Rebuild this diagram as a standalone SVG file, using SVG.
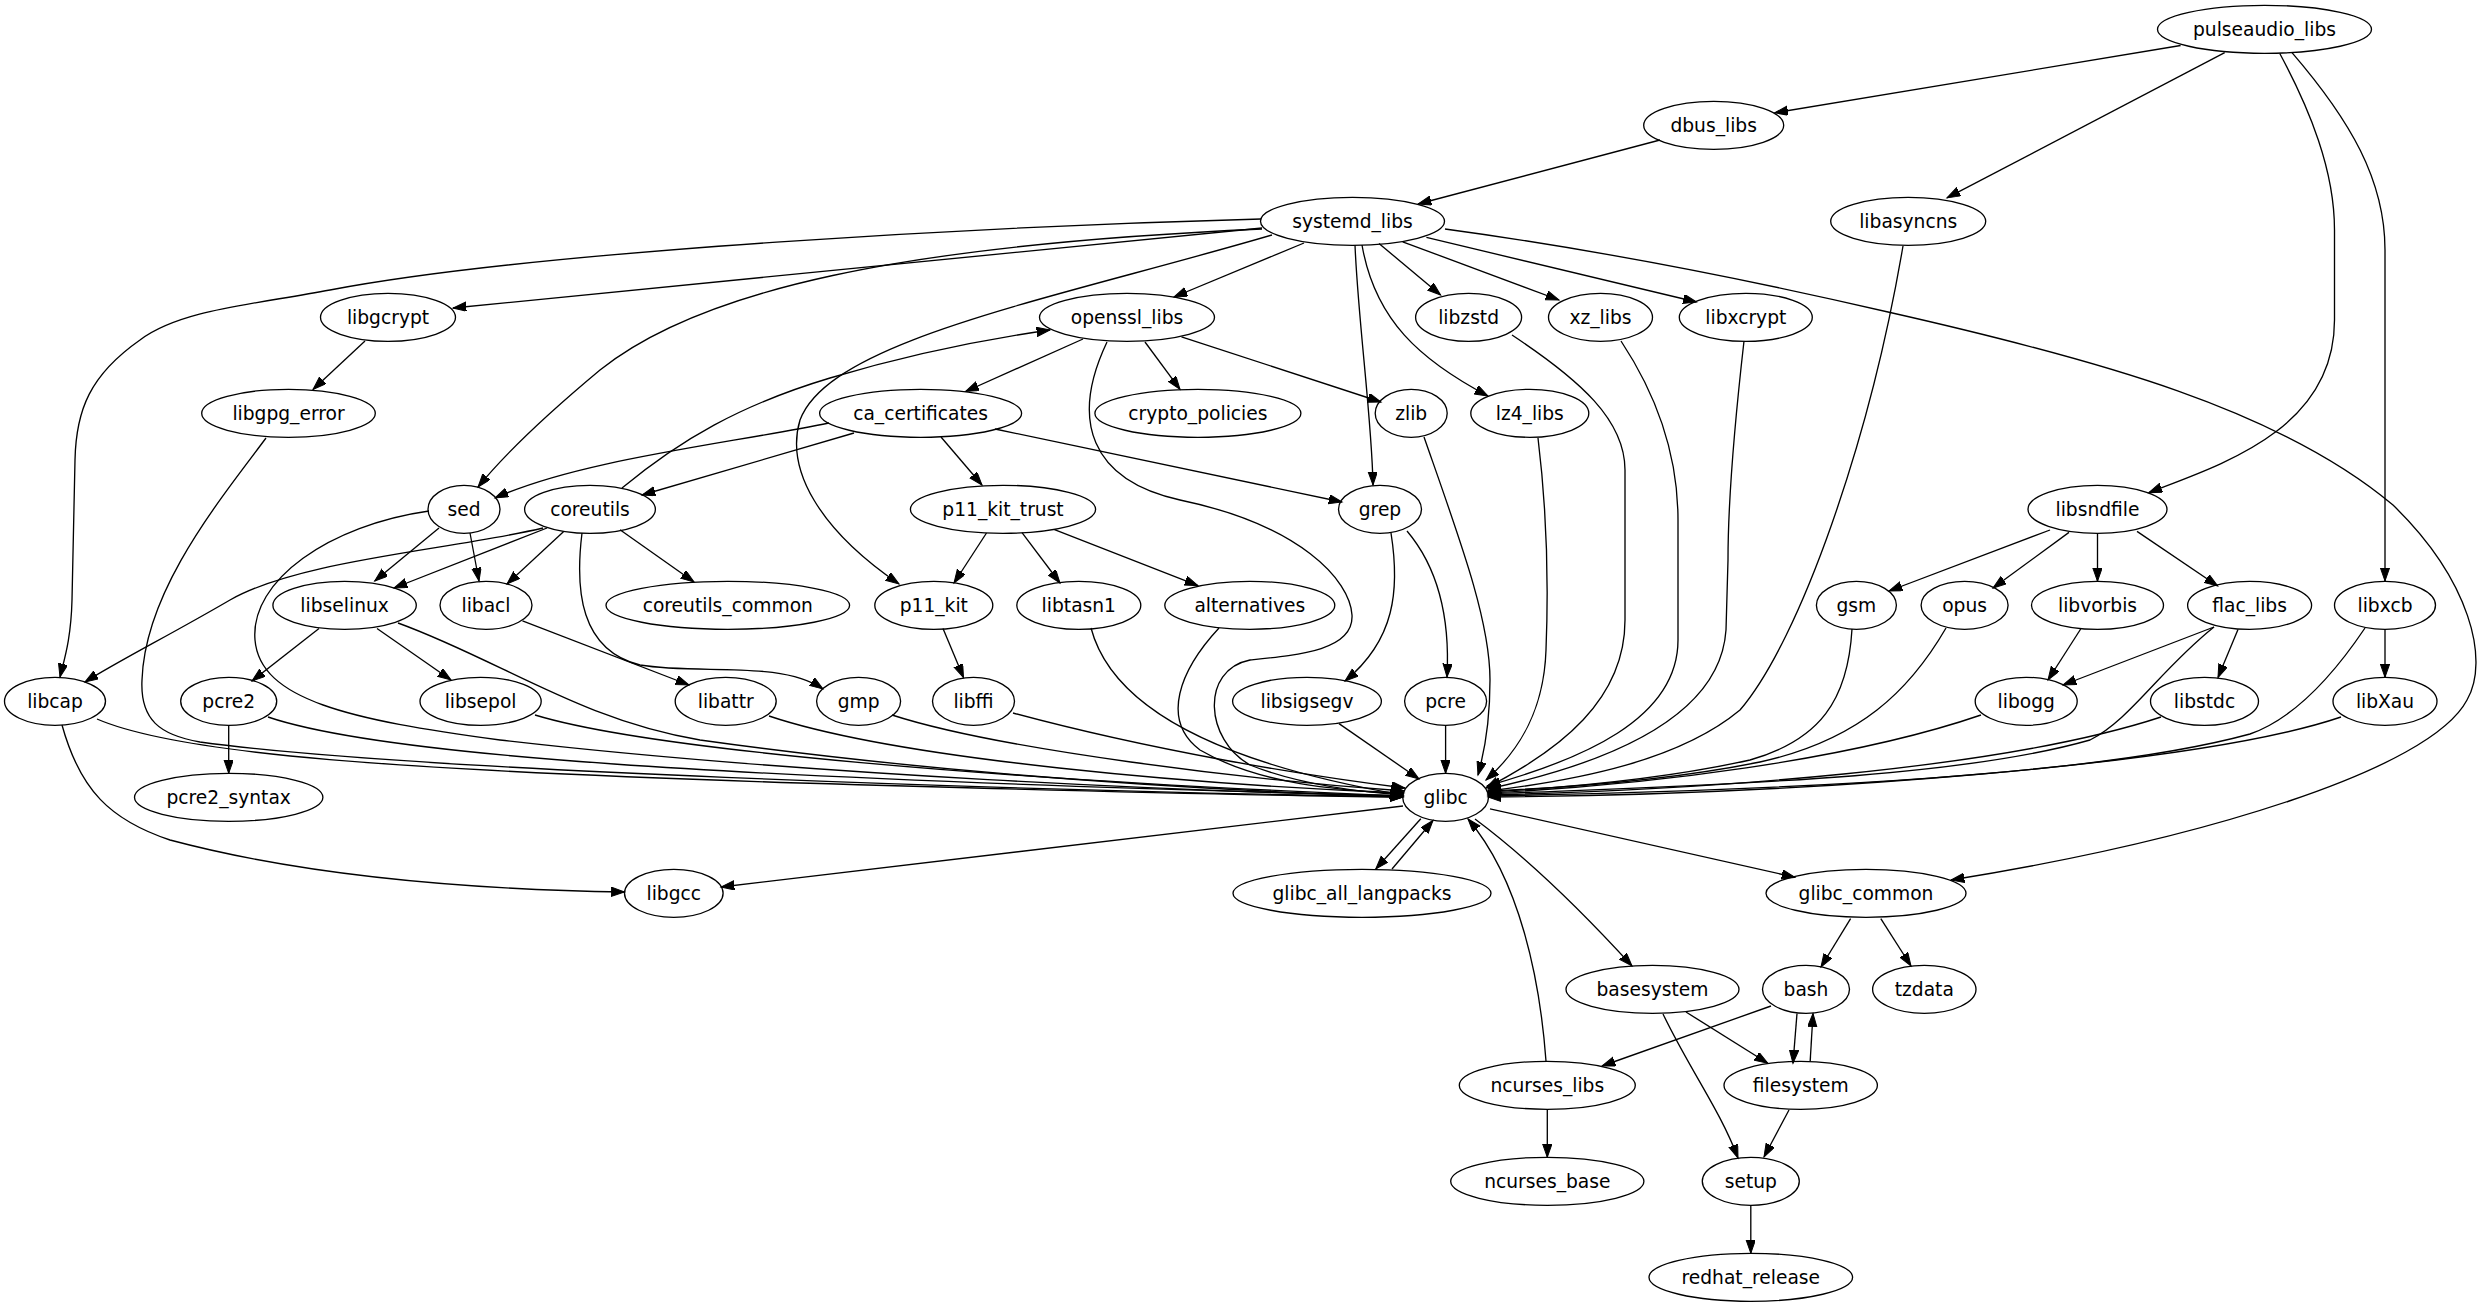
<svg xmlns="http://www.w3.org/2000/svg" width="2482" height="1307" viewBox="0 0 2482 1307">
<style>
.n ellipse{fill:none;stroke:#000;stroke-width:1.33}
.n text{font-family:"DejaVu Sans","Liberation Sans",sans-serif;font-size:18.67px;text-anchor:middle;fill:#000}
#edges path{fill:none;stroke:#000;stroke-width:1.33;marker-end:url(#arr)}
</style>
<defs>
<marker id="arr" markerWidth="15" markerHeight="11" refX="13.3" refY="4.67" orient="auto" markerUnits="userSpaceOnUse"><path d="M0,0 L13.3,4.67 L0,9.33 z" fill="#000" stroke="#000" stroke-width="1"/></marker>
</defs>
<rect width="2482" height="1307" fill="#fff"/>
<g id="edges">
<path d="M2180.6,45.5 L1774.7,112.8"/>
<path d="M2224.7,52.6 L1947,197.9"/>
<path d="M2279.8,53.5 C2310,110 2334.5,170 2334.5,230 L2334.5,320 C2334.5,430 2220,465 2148.8,492.6"/>
<path d="M2292,52.6 C2350,120 2385,180 2385,250 L2385,581"/>
<path d="M1660,140 L1418,204"/>
<path d="M1261,219 C1000,226 540,250 330,290 C250,305 180,310 140,340 C90,375 76,410 75,460 L72,600 C71,640 64,660 60,677"/>
<path d="M1262,228 L453,308"/>
<path d="M1262,229 C900,245 700,290 600,370 C540,420 500,460 478,487"/>
<path d="M1304,243 L1174,297"/>
<path d="M1272,235 C1050,300 830,340 800,420 C785,470 820,530 899,584"/>
<path d="M1355,245 C1358,320 1372,420 1373,485"/>
<path d="M1379,243.5 L1440.6,295"/>
<path d="M1402.7,241.8 L1559,300"/>
<path d="M1426.4,237.4 L1696.5,302"/>
<path d="M1362,245 C1375,320 1420,360 1488,396"/>
<path d="M1445,229 C1600,250 1750,280 1888,312 C2100,360 2280,410 2393,505 C2470,580 2490,660 2467,700 C2430,770 2200,840 1951,880"/>
<path d="M365,341 L313,389.4"/>
<path d="M266,438 C220,500 145,590 142,680 C140,720 160,735 200,742 C400,770 1000,790 1403,797"/>
<path d="M1083,339 L965.6,391.5"/>
<path d="M1145,342 L1180,389.4"/>
<path d="M1181.5,336.8 L1381,402"/>
<path d="M1107,342 C1070,420 1090,480 1180,500 C1300,525 1350,580 1352,615 C1354,650 1300,655 1250,660 C1200,670 1205,740 1250,765 C1300,785 1360,792 1403,795"/>
<path d="M622,488 C680,440 740,405 830,378 C900,357 980,340 1050,330"/>
<path d="M829,423 C720,445 580,460 495,498"/>
<path d="M854,433 L642,495"/>
<path d="M941,437 L982,485"/>
<path d="M995,429 L1342,502"/>
<path d="M1512,335 C1580,380 1625,420 1625,470 L1625,620 C1625,700 1560,750 1486,788"/>
<path d="M1621,341 C1660,400 1678,460 1678,520 L1678,640 C1678,720 1580,760 1487,786"/>
<path d="M1744,341 C1735,420 1728,500 1728,560 L1726,630 C1720,720 1600,765 1488,789"/>
<path d="M1903,246 C1870,440 1800,640 1740,710 C1680,760 1580,780 1488,791"/>
<path d="M1424,437 C1460,540 1490,620 1490,680 C1490,720 1485,750 1478,775"/>
<path d="M1538,438 C1548,520 1548,600 1546,650 C1544,710 1520,750 1486,780"/>
<path d="M439,528 L374.7,581"/>
<path d="M470,533 L479,581"/>
<path d="M429,511 C330,525 250,580 255,640 C260,700 350,720 500,740 C800,775 1200,792 1403,796"/>
<path d="M543,528 C450,550 300,560 230,600 C170,635 120,660 85,682"/>
<path d="M547,528 L394,588"/>
<path d="M563.7,531.4 L507,584"/>
<path d="M620,529.7 L694,582"/>
<path d="M582,533 C575,590 580,650 640,665 C700,675 780,660 823,689"/>
<path d="M986.5,533 L954,583"/>
<path d="M1022,532.6 L1060,583"/>
<path d="M1054.5,529.7 L1198,585.6"/>
<path d="M943,628.5 L963.5,677.6"/>
<path d="M1391,533 C1400,590 1395,640 1345,681"/>
<path d="M1407,531 C1440,570 1450,620 1447,677"/>
<path d="M2050,530 L1889,591"/>
<path d="M2069,532.4 L1993,588"/>
<path d="M2097.5,533.3 L2097.5,581.3"/>
<path d="M2137,531.4 L2217.7,586"/>
<path d="M2081,628.5 L2048,680"/>
<path d="M2214,627 L2063,685"/>
<path d="M2238,629.5 L2218,677.6"/>
<path d="M2214,627 C2160,670 2130,720 2090,740 C1950,780 1700,785 1488,794"/>
<path d="M2385,629.3 L2385,677.3"/>
<path d="M2365,628 C2330,680 2290,720 2250,734 C2100,775 1800,790 1488,796"/>
<path d="M1852,629 C1848,700 1820,740 1750,760 C1660,780 1560,788 1488,792"/>
<path d="M1946,628 C1910,690 1860,740 1760,762 C1660,782 1560,788 1488,791"/>
<path d="M1981,715 C1850,760 1650,785 1488,793"/>
<path d="M2161,717 C2000,770 1700,790 1488,795"/>
<path d="M2341,717 C2200,765 1800,795 1488,797"/>
<path d="M319,628.5 L252,681"/>
<path d="M377,628.5 L451,680"/>
<path d="M398,623 C500,660 580,720 700,740 C950,775 1200,790 1403,797"/>
<path d="M522.5,620.8 L689,685"/>
<path d="M97,719 C180,755 400,770 800,783 C1100,792 1300,796 1403,797"/>
<path d="M62,725 C80,790 110,820 170,840 C320,880 500,890 624.5,892"/>
<path d="M228.7,725.3 L228.7,773.3"/>
<path d="M268,717 C380,755 700,778 1403,796"/>
<path d="M535,715 C650,750 1000,780 1403,796"/>
<path d="M769,716 C900,760 1200,785 1404,793"/>
<path d="M892,715 C1000,750 1250,780 1404,791"/>
<path d="M1013,713 C1150,750 1300,775 1405,788"/>
<path d="M1091,628 C1110,700 1200,760 1403,795"/>
<path d="M1219,628 C1180,670 1160,720 1200,750 C1260,785 1340,790 1403,794"/>
<path d="M1339,723.6 L1419,779"/>
<path d="M1445.6,725.3 L1445.6,773.3"/>
<path d="M1403,806 L721,887"/>
<path d="M1420.8,818.8 L1375.8,869"/>
<path d="M1392,869 L1433,820.5"/>
<path d="M1490,808.8 L1795,877.3"/>
<path d="M1475,819 C1530,860 1590,920 1632,966"/>
<path d="M1546,1061 C1540,980 1520,880 1468,819"/>
<path d="M1686,1012 L1767.8,1063.3"/>
<path d="M1663,1014 C1690,1070 1720,1110 1738,1158"/>
<path d="M1850.6,918.6 L1821,967"/>
<path d="M1880.8,918.6 L1911,966"/>
<path d="M1771,1006 L1602,1066"/>
<path d="M1797,1013.5 L1793,1063.3"/>
<path d="M1810.2,1061 L1813,1013.5"/>
<path d="M1789,1110 L1764,1157"/>
<path d="M1547.3,1109.3 L1547.3,1157.3"/>
<path d="M1750.8,1205.3 L1750.8,1253.3"/>
</g>
<g id="node-pulseaudio_libs" class="n"><ellipse cx="2264.5" cy="29.3" rx="107" ry="24"/><text x="2264.5" y="35.8">pulseaudio_libs</text></g>
<g id="node-dbus_libs" class="n"><ellipse cx="1713.7" cy="125.3" rx="70" ry="24"/><text x="1713.7" y="131.8">dbus_libs</text></g>
<g id="node-systemd_libs" class="n"><ellipse cx="1352.5" cy="221.3" rx="92" ry="24"/><text x="1352.5" y="227.8">systemd_libs</text></g>
<g id="node-libasyncns" class="n"><ellipse cx="1908.2" cy="221.3" rx="77.5" ry="24"/><text x="1908.2" y="227.8">libasyncns</text></g>
<g id="node-libgcrypt" class="n"><ellipse cx="388" cy="317.3" rx="67.5" ry="24"/><text x="388" y="323.8">libgcrypt</text></g>
<g id="node-openssl_libs" class="n"><ellipse cx="1127" cy="317.3" rx="87.5" ry="24"/><text x="1127" y="323.8">openssl_libs</text></g>
<g id="node-libzstd" class="n"><ellipse cx="1468.6" cy="317.3" rx="53" ry="24"/><text x="1468.6" y="323.8">libzstd</text></g>
<g id="node-xz_libs" class="n"><ellipse cx="1600.5" cy="317.3" rx="52" ry="24"/><text x="1600.5" y="323.8">xz_libs</text></g>
<g id="node-libxcrypt" class="n"><ellipse cx="1745.8" cy="317.3" rx="66.5" ry="24"/><text x="1745.8" y="323.8">libxcrypt</text></g>
<g id="node-libgpg_error" class="n"><ellipse cx="288.5" cy="413.3" rx="86.8" ry="24"/><text x="288.5" y="419.8">libgpg_error</text></g>
<g id="node-ca_certificates" class="n"><ellipse cx="920.6" cy="413.3" rx="101" ry="24"/><text x="920.6" y="419.8">ca_certificates</text></g>
<g id="node-crypto_policies" class="n"><ellipse cx="1197.9" cy="413.3" rx="103" ry="24"/><text x="1197.9" y="419.8">crypto_policies</text></g>
<g id="node-zlib" class="n"><ellipse cx="1411.2" cy="413.3" rx="36" ry="24"/><text x="1411.2" y="419.8">zlib</text></g>
<g id="node-lz4_libs" class="n"><ellipse cx="1529.8" cy="413.3" rx="59" ry="24"/><text x="1529.8" y="419.8">lz4_libs</text></g>
<g id="node-sed" class="n"><ellipse cx="464" cy="509.3" rx="36" ry="24"/><text x="464" y="515.8">sed</text></g>
<g id="node-coreutils" class="n"><ellipse cx="590" cy="509.3" rx="65.4" ry="24"/><text x="590" y="515.8">coreutils</text></g>
<g id="node-p11_kit_trust" class="n"><ellipse cx="1003" cy="509.3" rx="92.6" ry="24"/><text x="1003" y="515.8">p11_kit_trust</text></g>
<g id="node-grep" class="n"><ellipse cx="1380" cy="509.3" rx="41.5" ry="24"/><text x="1380" y="515.8">grep</text></g>
<g id="node-libsndfile" class="n"><ellipse cx="2097.5" cy="509.3" rx="69.5" ry="24"/><text x="2097.5" y="515.8">libsndfile</text></g>
<g id="node-libselinux" class="n"><ellipse cx="344.6" cy="605.3" rx="71.7" ry="24"/><text x="344.6" y="611.8">libselinux</text></g>
<g id="node-libacl" class="n"><ellipse cx="486" cy="605.3" rx="46" ry="24"/><text x="486" y="611.8">libacl</text></g>
<g id="node-coreutils_common" class="n"><ellipse cx="727.8" cy="605.3" rx="121.8" ry="24"/><text x="727.8" y="611.8">coreutils_common</text></g>
<g id="node-p11_kit" class="n"><ellipse cx="933.8" cy="605.3" rx="59" ry="24"/><text x="933.8" y="611.8">p11_kit</text></g>
<g id="node-libtasn1" class="n"><ellipse cx="1078.8" cy="605.3" rx="62" ry="24"/><text x="1078.8" y="611.8">libtasn1</text></g>
<g id="node-alternatives" class="n"><ellipse cx="1249.8" cy="605.3" rx="85" ry="24"/><text x="1249.8" y="611.8">alternatives</text></g>
<g id="node-gsm" class="n"><ellipse cx="1856.4" cy="605.3" rx="40" ry="24"/><text x="1856.4" y="611.8">gsm</text></g>
<g id="node-opus" class="n"><ellipse cx="1964.6" cy="605.3" rx="43.5" ry="24"/><text x="1964.6" y="611.8">opus</text></g>
<g id="node-libvorbis" class="n"><ellipse cx="2097.5" cy="605.3" rx="66" ry="24"/><text x="2097.5" y="611.8">libvorbis</text></g>
<g id="node-flac_libs" class="n"><ellipse cx="2249.6" cy="605.3" rx="62" ry="24"/><text x="2249.6" y="611.8">flac_libs</text></g>
<g id="node-libxcb" class="n"><ellipse cx="2385" cy="605.3" rx="50.5" ry="24"/><text x="2385" y="611.8">libxcb</text></g>
<g id="node-libcap" class="n"><ellipse cx="55" cy="701.3" rx="50.5" ry="24"/><text x="55" y="707.8">libcap</text></g>
<g id="node-pcre2" class="n"><ellipse cx="228.7" cy="701.3" rx="48" ry="24"/><text x="228.7" y="707.8">pcre2</text></g>
<g id="node-libsepol" class="n"><ellipse cx="480.6" cy="701.3" rx="60.6" ry="24"/><text x="480.6" y="707.8">libsepol</text></g>
<g id="node-libattr" class="n"><ellipse cx="725.7" cy="701.3" rx="50.5" ry="24"/><text x="725.7" y="707.8">libattr</text></g>
<g id="node-gmp" class="n"><ellipse cx="858.6" cy="701.3" rx="42" ry="24"/><text x="858.6" y="707.8">gmp</text></g>
<g id="node-libffi" class="n"><ellipse cx="973.5" cy="701.3" rx="41" ry="24"/><text x="973.5" y="707.8">libffi</text></g>
<g id="node-libsigsegv" class="n"><ellipse cx="1307" cy="701.3" rx="74.4" ry="24"/><text x="1307" y="707.8">libsigsegv</text></g>
<g id="node-pcre" class="n"><ellipse cx="1445.6" cy="701.3" rx="41" ry="24"/><text x="1445.6" y="707.8">pcre</text></g>
<g id="node-libogg" class="n"><ellipse cx="2026.2" cy="701.3" rx="51" ry="24"/><text x="2026.2" y="707.8">libogg</text></g>
<g id="node-libstdc" class="n"><ellipse cx="2204.5" cy="701.3" rx="54" ry="24"/><text x="2204.5" y="707.8">libstdc</text></g>
<g id="node-libXau" class="n"><ellipse cx="2385" cy="701.3" rx="52" ry="24"/><text x="2385" y="707.8">libXau</text></g>
<g id="node-glibc" class="n"><ellipse cx="1445.6" cy="797.3" rx="42.9" ry="24"/><text x="1445.6" y="803.8">glibc</text></g>
<g id="node-pcre2_syntax" class="n"><ellipse cx="228.7" cy="797.3" rx="94.2" ry="24"/><text x="228.7" y="803.8">pcre2_syntax</text></g>
<g id="node-libgcc" class="n"><ellipse cx="673.8" cy="893.3" rx="49.3" ry="24"/><text x="673.8" y="899.8">libgcc</text></g>
<g id="node-glibc_all_langpacks" class="n"><ellipse cx="1362" cy="893.3" rx="129" ry="24"/><text x="1362" y="899.8">glibc_all_langpacks</text></g>
<g id="node-glibc_common" class="n"><ellipse cx="1866" cy="893.3" rx="100" ry="24"/><text x="1866" y="899.8">glibc_common</text></g>
<g id="node-basesystem" class="n"><ellipse cx="1652.5" cy="989.3" rx="86.5" ry="24"/><text x="1652.5" y="995.8">basesystem</text></g>
<g id="node-bash" class="n"><ellipse cx="1806" cy="989.3" rx="43.5" ry="24"/><text x="1806" y="995.8">bash</text></g>
<g id="node-tzdata" class="n"><ellipse cx="1924.3" cy="989.3" rx="51.7" ry="24"/><text x="1924.3" y="995.8">tzdata</text></g>
<g id="node-ncurses_libs" class="n"><ellipse cx="1547.3" cy="1085.3" rx="88" ry="24"/><text x="1547.3" y="1091.8">ncurses_libs</text></g>
<g id="node-filesystem" class="n"><ellipse cx="1800.7" cy="1085.3" rx="76.7" ry="24"/><text x="1800.7" y="1091.8">filesystem</text></g>
<g id="node-ncurses_base" class="n"><ellipse cx="1547.3" cy="1181.3" rx="96.6" ry="24"/><text x="1547.3" y="1187.8">ncurses_base</text></g>
<g id="node-setup" class="n"><ellipse cx="1750.8" cy="1181.3" rx="48.5" ry="24"/><text x="1750.8" y="1187.8">setup</text></g>
<g id="node-redhat_release" class="n"><ellipse cx="1750.8" cy="1277.3" rx="101.8" ry="24"/><text x="1750.8" y="1283.8">redhat_release</text></g>
</svg>
